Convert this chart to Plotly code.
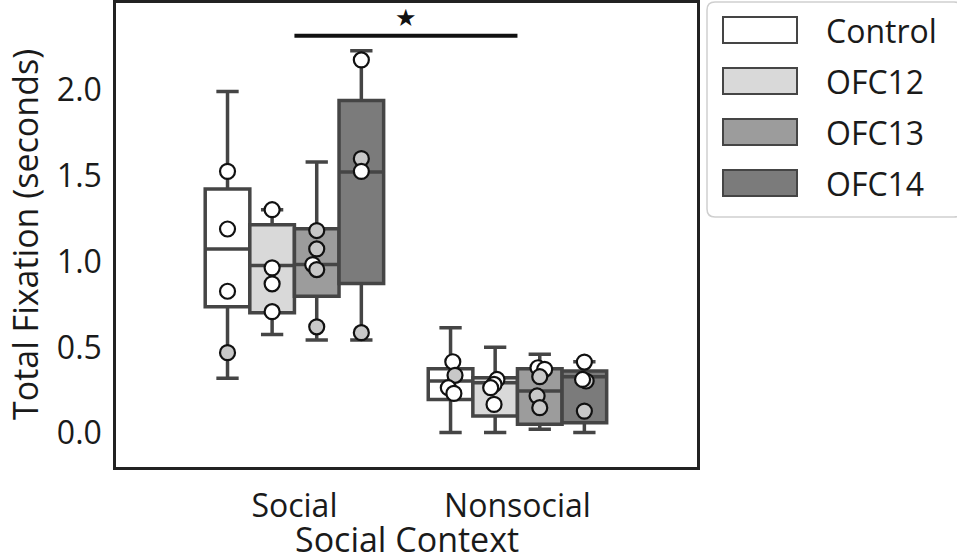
import plotly.graph_objects as go

# categories
contexts = ["Social", "Nonsocial"]
groups = ["Control", "OFC12", "OFC13", "OFC14"]

# box statistics, one value per context [Social, Nonsocial]
lower_whisker = {"Control": [0.320, 0.005], "OFC12": [0.575, 0.005],
                 "OFC13": [0.542, 0.023], "OFC14": [0.542, 0.005]}
q1 = {"Control": [0.736, 0.197], "OFC12": [0.701, 0.101],
      "OFC13": [0.797, 0.052], "OFC14": [0.871, 0.062]}
median = {"Control": [1.072, 0.304], "OFC12": [0.975, 0.294],
          "OFC13": [0.981, 0.246], "OFC14": [1.519, 0.329]}
q3 = {"Control": [1.421, 0.376], "OFC12": [1.213, 0.323],
      "OFC13": [1.190, 0.376], "OFC14": [1.935, 0.362]}
upper_whisker = {"Control": [1.987, 0.614], "OFC12": [1.300, 0.501],
                 "OFC13": [1.577, 0.459], "OFC14": [2.224, 0.416]}

# individual animals (value, subgroup 0 = white dot, 1 = grey dot)
points = {
    ("Social", "Control"): [1.523, 1.188, 0.826, 0.469],
    ("Social", "OFC12"): [1.300, 0.962, 0.869, 0.707],
    ("Social", "OFC13"): [1.179, 1.072, 0.981, 0.952, 0.619],
    ("Social", "OFC14"): [2.171, 1.597, 1.523, 0.585],
    ("Nonsocial", "Control"): [0.416, 0.337, 0.265, 0.232],
    ("Nonsocial", "OFC12"): [0.313, 0.284, 0.265, 0.168],
    ("Nonsocial", "OFC13"): [0.381, 0.372, 0.329, 0.217, 0.149],
    ("Nonsocial", "OFC14"): [0.414, 0.304, 0.313, 0.129],
}
subgroup = {
    ("Social", "Control"): [0, 0, 0, 1],
    ("Social", "OFC12"): [0, 0, 0, 0],
    ("Social", "OFC13"): [1, 1, 0, 1, 1],
    ("Social", "OFC14"): [0, 1, 0, 1],
    ("Nonsocial", "Control"): [0, 1, 0, 0],
    ("Nonsocial", "OFC12"): [0, 0, 0, 0],
    ("Nonsocial", "OFC13"): [0, 0, 1, 1, 1],
    ("Nonsocial", "OFC14"): [0, 1, 0, 1],
}
# small horizontal spread of the dots (strip jitter)
jitter = {
    ("Social", "Control"): [0, 0, 0, 0],
    ("Social", "OFC12"): [0, 0, 0, 0],
    ("Social", "OFC13"): [0, 0, -0.018, 0, 0],
    ("Social", "OFC14"): [0, 0, 0, 0],
    ("Nonsocial", "Control"): [0.01, 0.02, -0.01, 0.015],
    ("Nonsocial", "OFC12"): [0.008, -0.005, -0.02, -0.005],
    ("Nonsocial", "OFC13"): [-0.008, 0.022, 0, -0.012, 0],
    ("Nonsocial", "OFC14"): [0, 0.008, -0.008, 0],
}

# significance marker
sig_pair = ("Social", "Nonsocial")
sig_y = 2.312
sig_label = "★"

yticks = [0.0, 0.5, 1.0, 1.5, 2.0]
x_title = "Social Context"
y_title = "Total Fixation (seconds)"

box_colors = {"Control": "#ffffff", "OFC12": "#d9d9d9", "OFC13": "#9c9c9c", "OFC14": "#7b7b7b"}
dot_colors = ["#ffffff", "#c8c8c8"]
edge = "#454545"
font = "Open Sans"

box_w = 0.2
offsets = {g: (i - 1.5) * box_w for i, g in enumerate(groups)}

fig = go.Figure()

for g in groups:
    for ci, c in enumerate(contexts):
        fig.add_trace(go.Box(
            x=[ci + offsets[g]],
            q1=[q1[g][ci]], median=[median[g][ci]], q3=[q3[g][ci]],
            lowerfence=[lower_whisker[g][ci]], upperfence=[upper_whisker[g][ci]],
            width=box_w, whiskerwidth=0.5,
            fillcolor=box_colors[g], line=dict(color=edge, width=3.5),
            boxpoints=False, name=g, showlegend=False, hoverinfo="skip",
        ))

for g in groups:
    for ci, c in enumerate(contexts):
        vals = points[(c, g)]
        xs = [ci + offsets[g] + d for d in jitter[(c, g)]]
        fig.add_trace(go.Scatter(
            x=xs, y=vals, mode="markers", showlegend=False,
            marker=dict(size=15, color=[dot_colors[s] for s in subgroup[(c, g)]],
                        line=dict(color="#111111", width=2.2)),
        ))

# significance bar and star
x0 = contexts.index(sig_pair[0])
x1 = contexts.index(sig_pair[1])
fig.add_shape(type="line", xref="x", yref="y", x0=x0, x1=x1, y0=sig_y, y1=sig_y,
              line=dict(color="#111111", width=4))
fig.add_annotation(x=(x0 + x1) / 2, y=sig_y + 0.1, text=sig_label, showarrow=False,
                   font=dict(size=24, color="#111111", family="DejaVu Sans"))

# figure pixel helpers (for the legend and axis titles)
W, H = 957, 560
ml, mr, mt, mb = 116, 260, 3, 93
pw, ph = W - ml - mr, H - mt - mb


def px(xp):
    return (xp - ml) / pw


def py(yp):
    return (H - mb - yp) / ph


# axis titles
fig.add_annotation(xref="paper", yref="paper", x=px(ml + pw / 2), y=py(539),
                   text=x_title, showarrow=False, xanchor="center", yanchor="middle",
                   font=dict(size=34, color="#1a1a1a", family=font))
fig.add_annotation(xref="paper", yref="paper", x=px(25), y=py(mt + ph / 2),
                   text=y_title, showarrow=False, textangle=-90,
                   xanchor="center", yanchor="middle",
                   font=dict(size=34, color="#1a1a1a", family=font))

# hand-built legend to the right of the axes (large patches, like the original)
lx0, lx1, ly0, ly1, r = 707, 962, 2, 217, 8
path = (f"M {px(lx0 + r)} {py(ly0)} L {px(lx1 - r)} {py(ly0)} "
        f"Q {px(lx1)} {py(ly0)} {px(lx1)} {py(ly0 + r)} "
        f"L {px(lx1)} {py(ly1 - r)} Q {px(lx1)} {py(ly1)} {px(lx1 - r)} {py(ly1)} "
        f"L {px(lx0 + r)} {py(ly1)} Q {px(lx0)} {py(ly1)} {px(lx0)} {py(ly1 - r)} "
        f"L {px(lx0)} {py(ly0 + r)} Q {px(lx0)} {py(ly0)} {px(lx0 + r)} {py(ly0)} Z")
fig.add_shape(type="path", xref="paper", yref="paper", path=path,
              line=dict(color="#cfcfcf", width=1.5), fillcolor="white", layer="below")

for i, g in enumerate(groups):
    top = 17 + i * 51
    fig.add_shape(type="rect", xref="paper", yref="paper",
                  x0=px(723), x1=px(797), y0=py(top), y1=py(top + 26),
                  fillcolor=box_colors[g], line=dict(color=edge, width=2))
    fig.add_annotation(xref="paper", yref="paper", x=px(824), y=py(top + 13),
                       text=g, showarrow=False, xanchor="left", yanchor="middle",
                       font=dict(size=32, color="#1a1a1a", family=font))

fig.update_layout(
    width=W, height=H,
    margin=dict(l=ml, r=mr, t=mt, b=mb),
    plot_bgcolor="white", paper_bgcolor="white",
    font=dict(family=font, size=32, color="#1a1a1a"),
    showlegend=False,
)
fig.update_xaxes(
    range=[-0.8, 1.805], tickvals=list(range(len(contexts))), ticktext=contexts,
    showgrid=False, zeroline=False, showline=True, mirror=True, automargin=False,
    linecolor="#222222", linewidth=2.5, ticks="", ticklabelstandoff=9,
)
fig.update_yaxes(
    range=[-0.196, 2.502], tickvals=yticks, ticktext=[f"{v:.1f}" for v in yticks],
    showgrid=False, zeroline=False, showline=True, mirror=True, automargin=False,
    linecolor="#222222", linewidth=2.5, ticks="", ticklabelstandoff=5,
)

fig.write_html("out.html", config={"displayModeBar": False},
               post_script="document.body.style.margin='0';")
